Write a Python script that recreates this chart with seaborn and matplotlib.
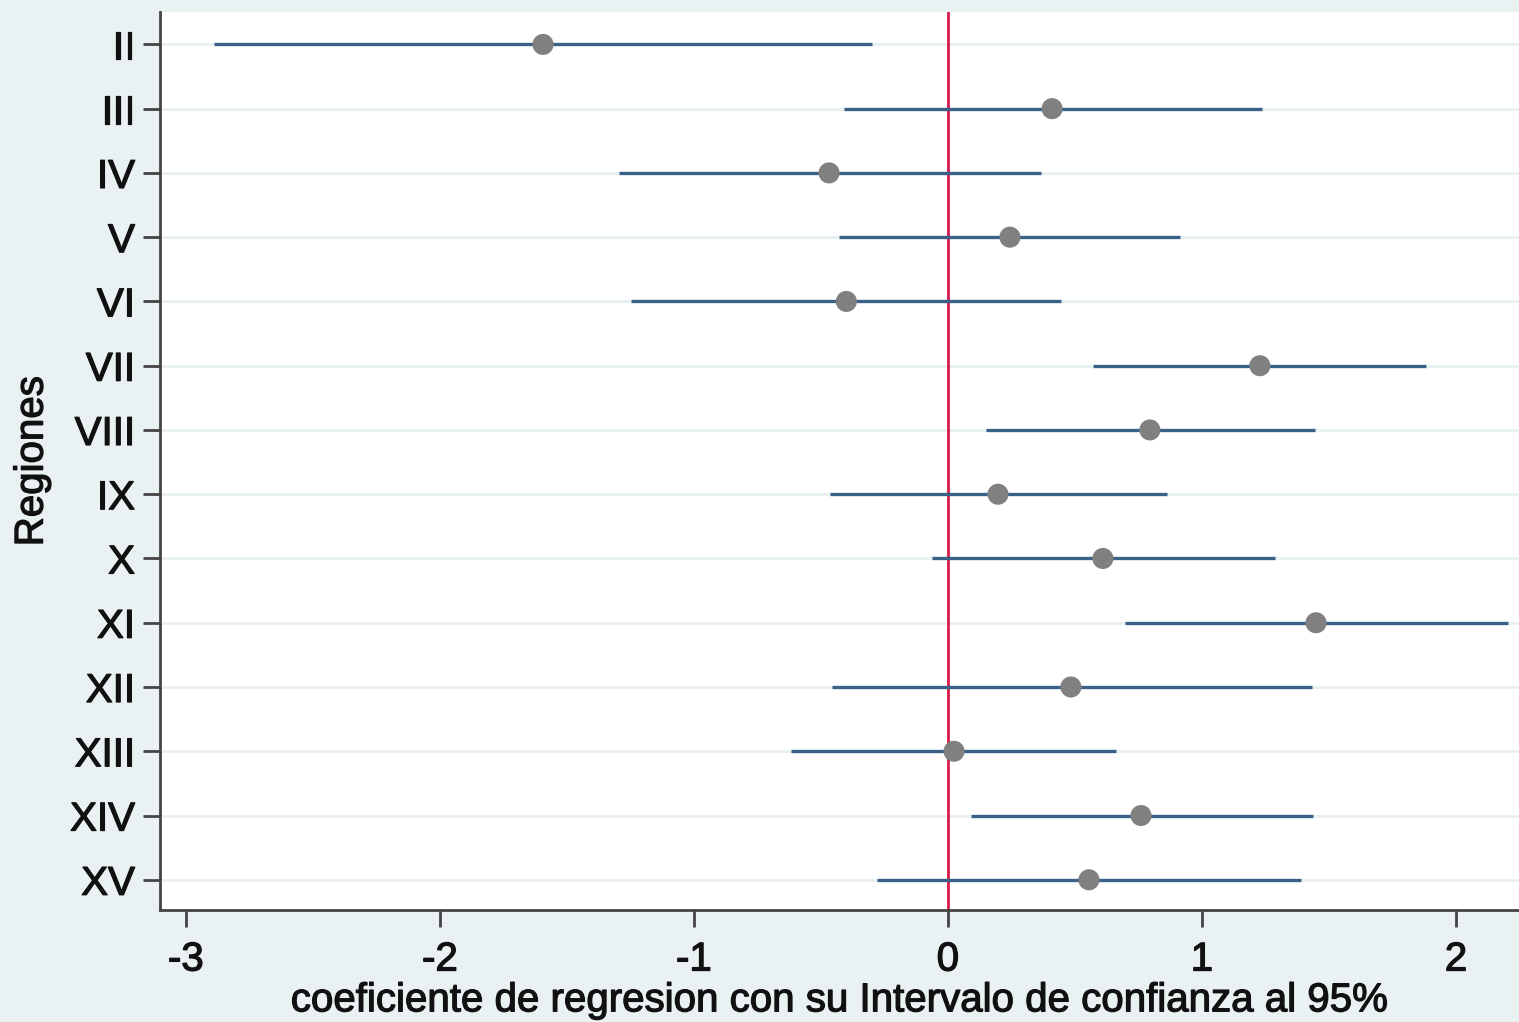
import numpy as np
import pandas as pd
import matplotlib
matplotlib.use("Agg")
import matplotlib.pyplot as plt
import matplotlib.patheffects as pe
import seaborn as sns

# coefficients and 95% CI by region
regions = ["II", "III", "IV", "V", "VI", "VII", "VIII", "IX", "X", "XI", "XII", "XIII", "XIV", "XV"]
coef = [-1.594, 0.41, -0.468, 0.244, -0.40, 1.228, 0.795, 0.197, 0.610, 1.449, 0.484, 0.024, 0.760, 0.555]
ci_low = [-2.89, -0.41, -1.295, -0.429, -1.248, 0.571, 0.150, -0.465, -0.063, 0.697, -0.457, -0.618, 0.091, -0.280]
ci_high = [-0.30, 1.236, 0.366, 0.913, 0.445, 1.882, 1.445, 0.862, 1.287, 2.205, 1.433, 0.661, 1.437, 1.390]
xticks = [-3, -2, -1, 0, 1, 2]

df = pd.DataFrame({"region": regions, "coef": coef, "lo": ci_low, "hi": ci_high})

sns.set_style("white")
plt.rcParams['font.family'] = ['Liberation Sans', 'DejaVu Sans']
plt.rcParams['text.color'] = '#111111'
plt.rcParams['axes.labelcolor'] = '#111111'

bg = "#eaf1f3"
fig = plt.figure(figsize=(15.19, 10.22), dpi=100, facecolor=bg)
ax = fig.add_axes([0.1053, 0.1096, 0.8947, 0.8784])
ax.set_facecolor("white")

pos = np.arange(len(df))

# horizontal grid lines at each region
for p in pos:
    ax.axhline(p, color="#e8f0f2", linewidth=2, zorder=0)

# reference line at zero
ax.axvline(0, color="#d81b4a", linewidth=2, zorder=1)

# confidence intervals
ax.hlines(pos, df["lo"], df["hi"], color="#3a6288", linewidth=2.4, zorder=2)

# point estimates
sns.scatterplot(data=df, x="coef", y="region", ax=ax, color="#808080",
                s=230, edgecolor="none", zorder=3, legend=False)

ax.set_xlim(-3.102, 2.248)
ax.set_ylim(len(df) - 0.53, -0.5)
ax.set_xticks(xticks)
ax.set_xticklabels([str(t) for t in xticks])
ax.set_yticks(pos)
ax.set_yticklabels(regions)

ax.tick_params(axis="both", which="major", direction="out", length=12, width=2,
               color="#444444", labelcolor="#111111", labelsize=29, pad=6,
               left=True, bottom=True)
ax.tick_params(axis="x", pad=10)

for s in ["top", "right"]:
    ax.spines[s].set_visible(False)
for s in ["left", "bottom"]:
    ax.spines[s].set_color("#444444")
    ax.spines[s].set_linewidth(2)

ax.set_xlabel("coeficiente de regresion con su Intervalo de confianza al 95%", fontsize=29, labelpad=2)
ax.set_ylabel("Regiones", fontsize=29, labelpad=14)

# slightly heavier text, like the original export
heavy = [pe.withStroke(linewidth=0.9, foreground="#111111")]
for t in ax.get_xticklabels() + ax.get_yticklabels() + [ax.xaxis.label, ax.yaxis.label]:
    t.set_path_effects(heavy)

fig.savefig("out.png", dpi=100, facecolor=bg)
